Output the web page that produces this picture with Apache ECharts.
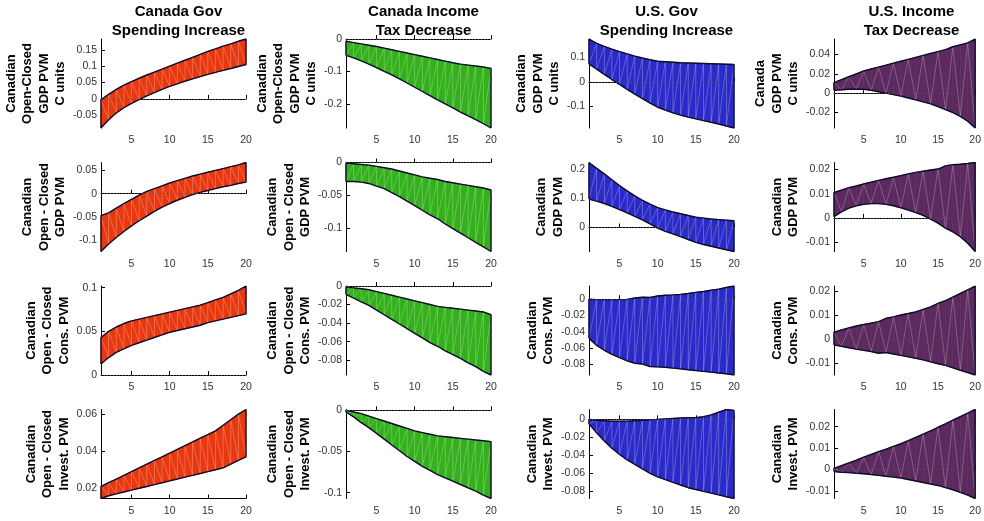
<!DOCTYPE html>
<html>
<head>
<meta charset="utf-8">
<script src="https://cdn.jsdelivr.net/npm/echarts@6/dist/echarts.min.js"></script>
<style>
    html, body { margin: 0; padding: 0; background: #fff; }
    #chart { width: 984px; height: 521px; }
</style>
</head>
<body>
<div id="chart"></div>
<script>
    // horizon (quarters)
    const steps = [1, 2, 3, 4, 5, 6, 7, 8, 9, 10, 11, 12, 13, 14, 15, 16, 17, 18, 19, 20];

    const colTitles = ['Canada Gov\nSpending Increase', 'Canada Income\nTax Decrease', 'U.S. Gov\nSpending Increase', 'U.S. Income\nTax Decrease'];
    const colColors = ['#e8380f', '#33b01b', '#2a2ac8', '#5c2a5e'];

    const rowNames = [
        ['Canadian\nOpen-Closed\nGDP PVM\nC units', 'Canadian\nOpen-Closed\nGDP PVM\nC units', 'Canadian\nGDP PVM\nC units', 'Canada\nGDP PVM\nC units'],
        ['Canadian\nOpen - Closed\nGDP PVM', 'Canadian\nOpen - Closed\nGDP PVM', 'Canadian\nGDP PVM', 'Canadian\nGDP PVM'],
        ['Canadian\nOpen - Closed\nCons. PVM', 'Canadian\nOpen - Closed\nCons. PVM', 'Canadian\nCons. PVM', 'Canadian\nCons. PVM'],
        ['Canadian\nOpen - Closed\nInvest. PVM', 'Canadian\nOpen - Closed\nInvest. PVM', 'Canadian\nInvest. PVM', 'Canadian\nInvest. PVM']
    ];

    // row 1: GDP, C units
    const up11 = [-0.003, 0.014, 0.029, 0.042, 0.053, 0.063, 0.073, 0.082, 0.091, 0.100, 0.109, 0.118, 0.127, 0.136, 0.145, 0.153, 0.161, 0.168, 0.176, 0.183];
    const lo11 = [-0.089, -0.064, -0.043, -0.027, -0.014, -0.002, 0.009, 0.019, 0.029, 0.038, 0.046, 0.054, 0.061, 0.068, 0.075, 0.081, 0.087, 0.093, 0.099, 0.105];
    const up12 = [-0.007, -0.011, -0.015, -0.019, -0.023, -0.028, -0.033, -0.038, -0.043, -0.048, -0.053, -0.058, -0.063, -0.068, -0.073, -0.077, -0.080, -0.083, -0.086, -0.090];
    const lo12 = [-0.050, -0.058, -0.067, -0.077, -0.088, -0.099, -0.110, -0.122, -0.135, -0.148, -0.161, -0.174, -0.187, -0.199, -0.211, -0.224, -0.236, -0.247, -0.260, -0.273];
    const up13 = [0.173, 0.155, 0.143, 0.132, 0.122, 0.113, 0.104, 0.096, 0.089, 0.083, 0.081, 0.079, 0.077, 0.076, 0.075, 0.074, 0.073, 0.072, 0.071, 0.070];
    const lo13 = [0.072, 0.051, 0.030, 0.009, -0.011, -0.031, -0.050, -0.068, -0.086, -0.103, -0.115, -0.126, -0.135, -0.143, -0.150, -0.157, -0.164, -0.171, -0.179, -0.187];
    const up14 = [0.011, 0.014, 0.017, 0.020, 0.023, 0.025, 0.027, 0.029, 0.031, 0.033, 0.035, 0.037, 0.039, 0.041, 0.043, 0.045, 0.048, 0.050, 0.052, 0.056];
    const lo14 = [0.003, 0.0035, 0.004, 0.0042, 0.004, 0.003, 0.0015, 0.0, -0.0015, -0.003, -0.005, -0.007, -0.009, -0.011, -0.014, -0.017, -0.020, -0.024, -0.029, -0.036];

    // row 2: GDP PVM
    const up21 = [-0.047, -0.041, -0.031, -0.021, -0.012, -0.003, 0.005, 0.011, 0.017, 0.023, 0.028, 0.033, 0.038, 0.042, 0.046, 0.050, 0.054, 0.058, 0.062, 0.067];
    const lo21 = [-0.124, -0.108, -0.094, -0.081, -0.069, -0.058, -0.048, -0.038, -0.029, -0.021, -0.014, -0.008, -0.002, 0.003, 0.007, 0.011, 0.015, 0.018, 0.022, 0.025];
    const up22 = [-0.001, -0.002, -0.003, -0.004, -0.006, -0.008, -0.010, -0.013, -0.016, -0.019, -0.022, -0.024, -0.026, -0.029, -0.031, -0.033, -0.035, -0.037, -0.039, -0.042];
    const lo22 = [-0.029, -0.029, -0.030, -0.032, -0.036, -0.040, -0.046, -0.052, -0.059, -0.066, -0.073, -0.080, -0.086, -0.094, -0.101, -0.108, -0.115, -0.122, -0.129, -0.136];
    const up23 = [0.222, 0.202, 0.183, 0.163, 0.143, 0.125, 0.108, 0.093, 0.080, 0.068, 0.060, 0.053, 0.047, 0.041, 0.035, 0.032, 0.029, 0.027, 0.025, 0.023];
    const lo23 = [0.097, 0.090, 0.082, 0.072, 0.061, 0.050, 0.038, 0.026, 0.012, -0.002, -0.013, -0.022, -0.031, -0.041, -0.051, -0.058, -0.064, -0.070, -0.076, -0.082];
    const up24 = [0.0105, 0.0115, 0.0125, 0.0132, 0.0140, 0.0148, 0.0155, 0.0162, 0.0168, 0.0175, 0.0182, 0.0188, 0.0193, 0.0198, 0.0202, 0.0215, 0.0220, 0.0222, 0.0225, 0.0229];
    const lo24 = [0.0005, 0.0025, 0.0040, 0.0050, 0.0056, 0.0059, 0.0059, 0.0056, 0.0050, 0.0042, 0.0032, 0.0022, 0.0010, -0.0005, -0.0022, -0.0042, -0.0058, -0.0078, -0.0105, -0.0139];

    // row 3: consumption PVM
    const up31 = [0.043, 0.050, 0.055, 0.059, 0.062, 0.064, 0.066, 0.068, 0.070, 0.072, 0.074, 0.076, 0.078, 0.080, 0.083, 0.086, 0.089, 0.093, 0.097, 0.102];
    const lo31 = [0.0125, 0.020, 0.026, 0.030, 0.034, 0.037, 0.040, 0.043, 0.046, 0.049, 0.051, 0.053, 0.055, 0.057, 0.060, 0.062, 0.064, 0.066, 0.068, 0.070];
    const up32 = [-0.001, -0.002, -0.003, -0.004, -0.006, -0.008, -0.010, -0.012, -0.014, -0.016, -0.018, -0.020, -0.022, -0.023, -0.024, -0.025, -0.026, -0.027, -0.028, -0.031];
    const lo32 = [-0.009, -0.013, -0.017, -0.021, -0.026, -0.031, -0.036, -0.041, -0.046, -0.051, -0.056, -0.061, -0.065, -0.070, -0.074, -0.078, -0.083, -0.087, -0.092, -0.096];
    const up33 = [0.000, -0.0005, -0.0005, -0.0005, -0.0005, -0.0002, 0.0015, 0.0025, 0.0022, 0.004, 0.0048, 0.0053, 0.006, 0.007, 0.0085, 0.0095, 0.011, 0.0125, 0.0145, 0.0163];
    const lo33 = [-0.048, -0.057, -0.063, -0.068, -0.072, -0.076, -0.079, -0.080, -0.083, -0.0835, -0.084, -0.085, -0.086, -0.087, -0.088, -0.089, -0.090, -0.091, -0.092, -0.0935];
    const up34 = [0.0028, 0.0037, 0.0046, 0.0054, 0.0060, 0.0066, 0.0072, 0.0086, 0.0092, 0.0100, 0.0106, 0.0113, 0.0123, 0.0134, 0.0148, 0.0160, 0.0175, 0.0190, 0.0205, 0.0221];
    const lo34 = [-0.0025, -0.0031, -0.0037, -0.0043, -0.0048, -0.0053, -0.0060, -0.0057, -0.0063, -0.0069, -0.0075, -0.0081, -0.0088, -0.0096, -0.0104, -0.0111, -0.0121, -0.0131, -0.0141, -0.0151];

    // row 4: investment PVM
    const up41 = [0.021, 0.023, 0.025, 0.027, 0.029, 0.031, 0.033, 0.035, 0.037, 0.039, 0.041, 0.043, 0.045, 0.047, 0.049, 0.051, 0.054, 0.057, 0.060, 0.0625];
    const lo41 = [0.0145, 0.016, 0.017, 0.018, 0.019, 0.020, 0.021, 0.022, 0.023, 0.024, 0.025, 0.026, 0.027, 0.028, 0.029, 0.030, 0.031, 0.033, 0.035, 0.037];
    const up42 = [0.000, -0.002, -0.004, -0.007, -0.010, -0.013, -0.016, -0.019, -0.022, -0.025, -0.027, -0.029, -0.031, -0.032, -0.033, -0.034, -0.035, -0.036, -0.037, -0.038];
    const lo42 = [-0.002, -0.008, -0.015, -0.021, -0.028, -0.035, -0.042, -0.049, -0.056, -0.062, -0.068, -0.073, -0.078, -0.082, -0.086, -0.090, -0.094, -0.098, -0.103, -0.107];
    const up43 = [0.000, -0.001, -0.0015, -0.002, -0.002, -0.002, -0.0015, -0.001, -0.0005, 0.000, 0.0005, 0.001, 0.0015, 0.002, 0.002, 0.003, 0.005, 0.008, 0.011, 0.010];
    const lo43 = [-0.005, -0.015, -0.024, -0.032, -0.039, -0.045, -0.050, -0.055, -0.060, -0.064, -0.067, -0.070, -0.073, -0.076, -0.078, -0.080, -0.082, -0.084, -0.086, -0.088];
    const up44 = [0.0005, 0.0018, 0.003, 0.0043, 0.0057, 0.007, 0.0083, 0.0095, 0.0108, 0.012, 0.0135, 0.015, 0.0165, 0.018, 0.0197, 0.0213, 0.023, 0.0247, 0.0263, 0.028];
    const lo44 = [-0.001, -0.0013, -0.0015, -0.0018, -0.002, -0.0024, -0.0028, -0.0032, -0.0036, -0.004, -0.0047, -0.0054, -0.0061, -0.0068, -0.0075, -0.0085, -0.0095, -0.0107, -0.012, -0.0136];

    const uppers = [[up11, up12, up13, up14], [up21, up22, up23, up24], [up31, up32, up33, up34], [up41, up42, up43, up44]];
    const lowers = [[lo11, lo12, lo13, lo14], [lo21, lo22, lo23, lo24], [lo31, lo32, lo33, lo34], [lo41, lo42, lo43, lo44]];

    // axis limits [min, max] and y tick labels, per panel
    const yRanges = [
        [[-0.089, 0.183], [-0.273, 0], [-0.187, 0.173], [-0.036, 0.056]],
        [[-0.124, 0.067], [-0.136, 0], [-0.082, 0.222], [-0.0139, 0.0229]],
        [[0, 0.102], [-0.096, 0], [-0.0935, 0.0163], [-0.0151, 0.0221]],
        [[0.0145, 0.0625], [-0.107, 0.001], [-0.088, 0.011], [-0.0136, 0.028]]
    ];
    const yTicks = [
        [[-0.05, 0, 0.05, 0.1, 0.15], [-0.2, -0.1, 0], [-0.1, 0, 0.1], [-0.02, 0, 0.02, 0.04]],
        [[-0.1, -0.05, 0, 0.05], [-0.1, -0.05, 0], [0, 0.1, 0.2], [-0.01, 0, 0.01, 0.02]],
        [[0, 0.05, 0.1], [-0.08, -0.06, -0.04, -0.02, 0], [-0.08, -0.06, -0.04, -0.02, 0], [-0.01, 0, 0.01, 0.02]],
        [[0.02, 0.04, 0.06], [-0.1, -0.05, 0], [-0.08, -0.06, -0.04, -0.02, 0], [-0.01, 0, 0.01, 0.02]]
    ];
    const xTicks = [5, 10, 15, 20];

    const FONT = '"Liberation Sans", Arial, Helvetica, sans-serif';
    const colLeft = [101, 346, 589, 834];
    const rowTop = [39, 162.5, 286, 409.5];
    const W = 145, H = 89;

    const fmt = v => String(+v.toFixed(4));
    const ctx = document.createElement('canvas').getContext('2d');
    ctx.font = '10px ' + FONT;
    const textW = s => ctx.measureText(s).width;

    // faint triangulation stripes inside the patches, as in the original
    function hatch(up, lo, col) {
        const pts = [];
        steps.forEach((x, i) => {
            if (col === 3) {
                pts.push([x, i % 2 === 0 ? up[i] : lo[i]]);
            } else if (col === 0) {
                pts.push([x, up[i]]);
                if (i + 1 < steps.length) pts.push([steps[i + 1], lo[i + 1]]);
            } else {
                pts.push([x, lo[i]]);
                if (i + 1 < steps.length) pts.push([steps[i + 1], up[i + 1]]);
            }
        });
        return pts;
    }

    // one quad per step: [x0, lo0, up0, x1, lo1, up1]
    function bandRender(color) {
        return function (params, api) {
            const pts = [
                api.coord([api.value(0), api.value(1)]),
                api.coord([api.value(3), api.value(4)]),
                api.coord([api.value(3), api.value(5)]),
                api.coord([api.value(0), api.value(2)])
            ];
            return {
                type: 'polygon',
                shape: { points: pts },
                style: { fill: color, stroke: color, lineWidth: 0.7 }
            };
        };
    }

    const grid = [], xAxis = [], yAxis = [], series = [];
    let k = 0;
    for (let r = 0; r < 4; r++) {
        for (let c = 0; c < 4; c++) {
            const up = uppers[r][c], lo = lowers[r][c];
            const ticks = yTicks[r][c];
            const maxW = Math.max(...ticks.map(t => textW(fmt(t))));
            grid.push({ left: colLeft[c], top: rowTop[r], width: W, height: H });
            xAxis.push({
                type: 'value', gridIndex: k, min: 1, max: 20,
                axisLine: { lineStyle: { color: '#000', width: 1 } },
                axisTick: { inside: true, length: 4, customValues: xTicks, lineStyle: { color: '#000' } },
                axisLabel: { customValues: xTicks, fontSize: 10.5, color: '#333', margin: 7, fontFamily: FONT },
                splitLine: { show: false }
            });
            yAxis.push({
                type: 'value', gridIndex: k, min: yRanges[r][c][0], max: yRanges[r][c][1],
                name: rowNames[r][c], nameLocation: 'middle', nameRotate: 90,
                nameGap: maxW + 8,
                nameTextStyle: { fontSize: 13, fontWeight: 'bold', color: '#000', lineHeight: 16.5, fontFamily: FONT },
                axisLine: { show: true, lineStyle: { color: '#000', width: 1 } },
                axisTick: { show: true, inside: true, length: 4, customValues: ticks, lineStyle: { color: '#000' } },
                axisLabel: { customValues: ticks, formatter: fmt, fontSize: 10.5, color: '#333', margin: 4, fontFamily: FONT },
                splitLine: { show: false }
            });
            const quads = [];
            for (let i = 0; i + 1 < steps.length; i++) {
                quads.push([steps[i], lo[i], up[i], steps[i + 1], lo[i + 1], up[i + 1]]);
            }
            series.push({
                type: 'custom', xAxisIndex: k, yAxisIndex: k, data: quads,
                renderItem: bandRender(colColors[c]), silent: true, z: 1,
                encode: { x: [0, 3], y: [1, 2, 4, 5] }
            });
            series.push({
                type: 'line', xAxisIndex: k, yAxisIndex: k, data: hatch(up, lo, c),
                symbol: 'none', silent: true,
                lineStyle: { width: 0.8, color: '#fff', opacity: 0.3 }, z: 3
            });
            const outline = steps.map((x, i) => [x, lo[i]])
                .concat(steps.slice().reverse().map((x, j) => [x, up[steps.length - 1 - j]]));
            outline.push([steps[0], lo[0]]);
            series.push({
                type: 'line', xAxisIndex: k, yAxisIndex: k, data: outline,
                symbol: 'none', silent: true,
                lineStyle: { width: 1.4, color: '#0d0d2a' }, z: 4,
                markLine: {
                    silent: true, symbol: 'none', animation: false,
                    label: { show: false },
                    lineStyle: { type: [1, 2], color: '#555', width: 1 },
                    data: [{ yAxis: 0 }]
                }
            });
            k++;
        }
    }

    const title = colTitles.map((t, c) => ({
        text: t, left: colLeft[c] + W / 2, top: -3, textAlign: 'center',
        textStyle: { fontSize: 15, fontWeight: 'bold', color: '#000', lineHeight: 19, fontFamily: FONT }
    }));

    const chart = echarts.init(document.getElementById('chart'));
    chart.setOption({
        animation: false,
        backgroundColor: '#fff',
        title: title,
        grid: grid,
        xAxis: xAxis,
        yAxis: yAxis,
        series: series
    });
</script>
</body>
</html>
